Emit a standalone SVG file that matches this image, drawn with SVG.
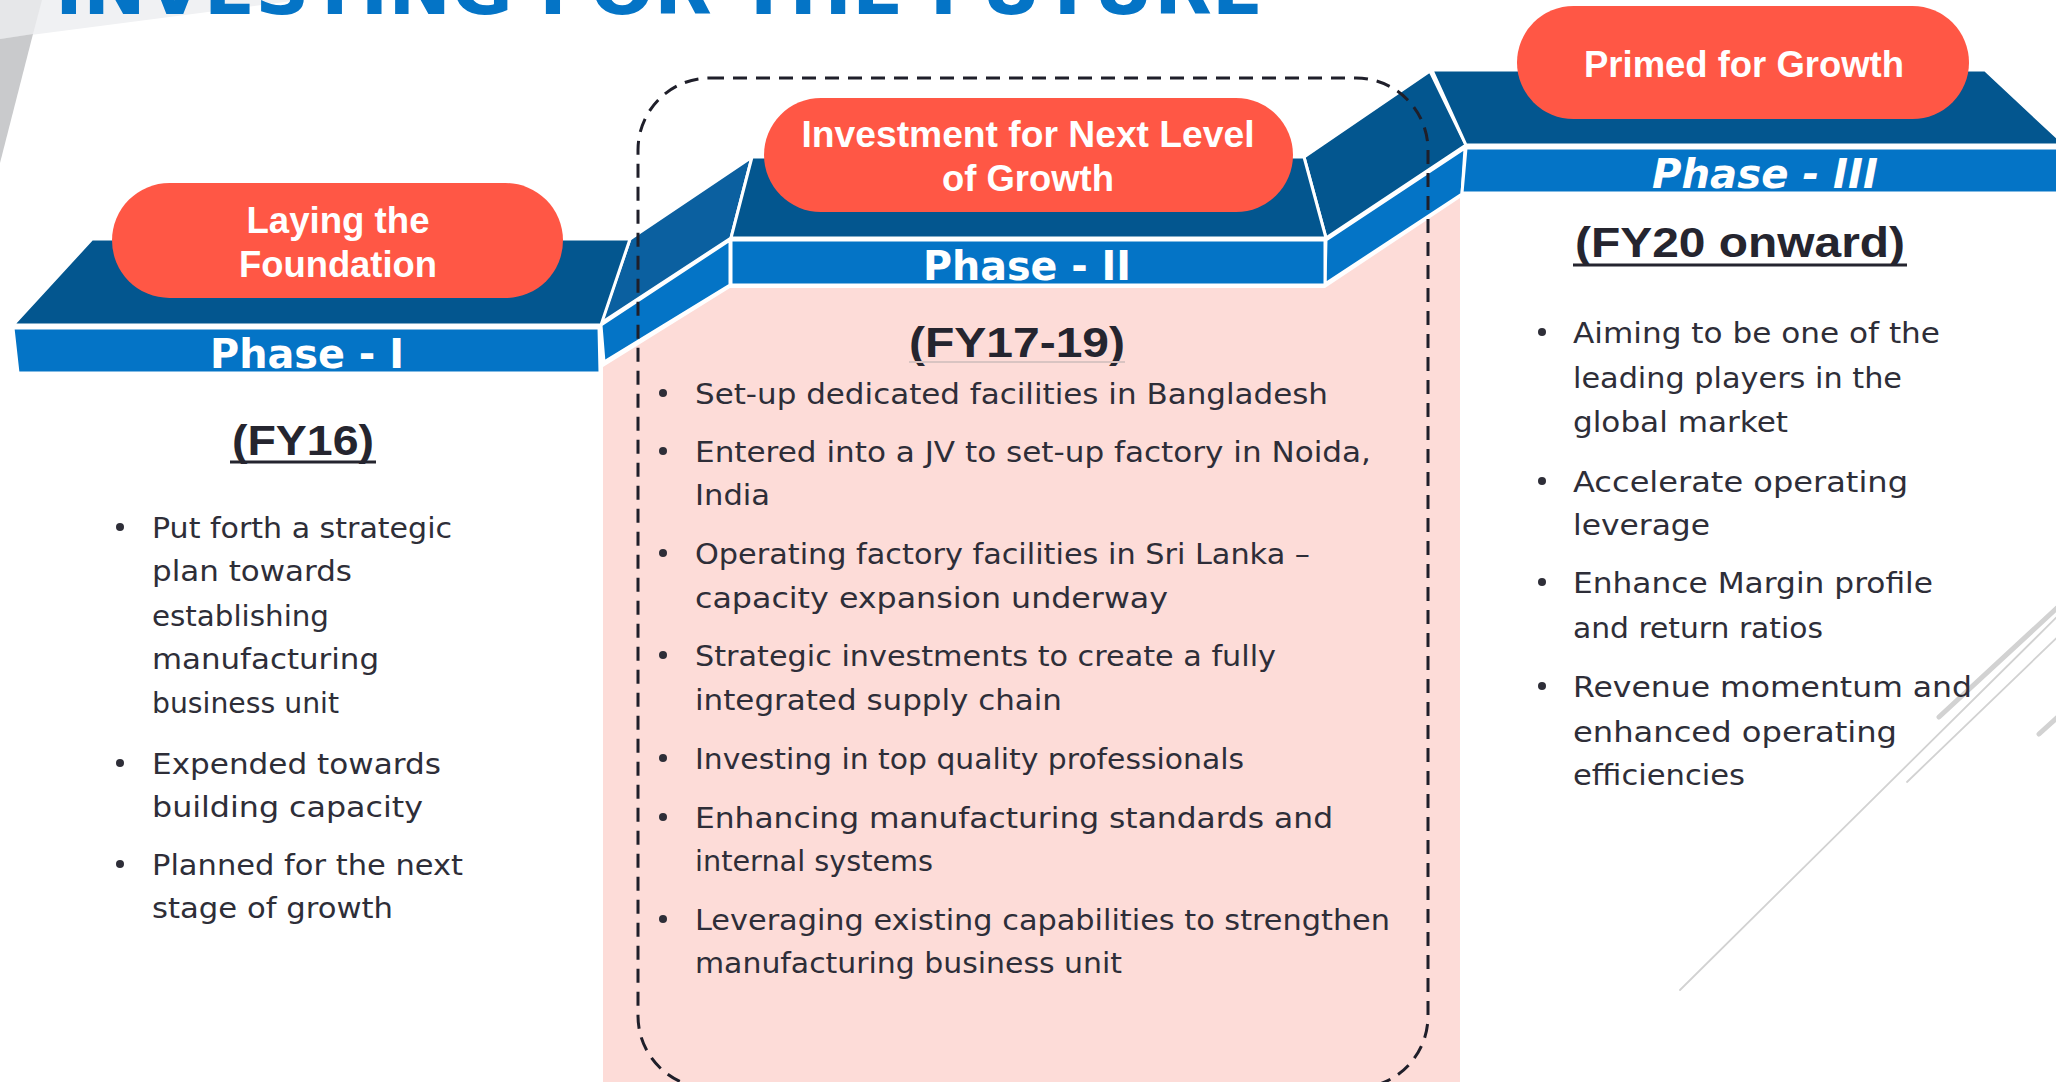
<svg xmlns="http://www.w3.org/2000/svg" width="2056" height="1082" viewBox="0 0 2056 1082">
<style>
.top{fill:#03568F;stroke:#fff;stroke-width:3;stroke-linejoin:round}
.slopetop{fill:#0B60A0;stroke:#fff;stroke-width:3;stroke-linejoin:round}
.front{fill:#0474C6;stroke:#fff;stroke-width:3;stroke-linejoin:round}
.pill{fill:#FF5745}
.pilltxt{font-family:"Liberation Sans",Arial,sans-serif;font-weight:bold;font-size:36px;fill:#fff;text-anchor:middle}
.phase{font-family:"DejaVu Sans",sans-serif;font-weight:bold;font-size:40px;fill:#fff;text-anchor:middle}
.fy{font-family:"Liberation Sans",Arial,sans-serif;font-weight:bold;font-size:42px;fill:#25252F;text-anchor:middle}
.ul{stroke:#25252F;stroke-width:3}
.b{font-family:"DejaVu Sans",sans-serif;font-size:29px;fill:#2E2E38}
.dot{fill:#2E2E38}
.deco{stroke:#D2D2D2;fill:none;stroke-linecap:round}
</style>
<rect width="2056" height="1082" fill="#fff"/>
<g id="background">
<polygon points="0,0 300,0 0,39" fill="#F0F1F3"/>
<polygon points="0,0 42,0 33,34 0,39" fill="#E6E7E9"/>
<polygon points="0,39 33,34 0,163" fill="#C9CACC"/>
<polygon points="603,367 730,288 1325,288 1460,198 1460,1082 603,1082" fill="#FDDCD8"/>
<line class="deco" x1="1939" y1="717" x2="2070" y2="596" stroke-width="5"/>
<line class="deco" x1="1907" y1="782" x2="2070" y2="625" stroke-width="1.8"/>
<line class="deco" x1="1680" y1="990" x2="2070" y2="604" stroke-width="1.8"/>
<line class="deco" x1="2039" y1="734" x2="2070" y2="706" stroke-width="5"/>
<text x="55" y="14" font-family="'DejaVu Sans',sans-serif" font-weight="bold" font-size="72" fill="#0474C6" textLength="1208" lengthAdjust="spacingAndGlyphs">INVESTING FOR THE FUTURE</text>
</g>
<g id="connectors">
<polygon class="slopetop" points="630,239 752,157 731,238 601,323"/>
<polygon class="front" points="601,325 730,240 730,285 604,362"/>
<polygon class="top" points="1304,157 1430,71 1466,145 1326,238"/>
<polygon class="front" points="1326,240 1465,148 1462,194 1325,284"/>
</g>
<g id="phase1">
<polygon class="top" points="92,239 630,239 601,325 13,325"/>
<polygon class="front" points="13,328 599,328 600,373 18,373"/>
<rect class="pill" x="112" y="183" width="451" height="115" rx="57.5"/>
<text class="pilltxt" x="338" y="233" textLength="183" lengthAdjust="spacingAndGlyphs">Laying the</text>
<text class="pilltxt" x="338" y="277" textLength="198" lengthAdjust="spacingAndGlyphs">Foundation</text>
<text class="phase" x="307" y="368" textLength="194" lengthAdjust="spacingAndGlyphs">Phase - I</text>
<text class="fy" x="303" y="455" textLength="142" lengthAdjust="spacingAndGlyphs">(FY16)</text>
<line class="ul" x1="230" y1="462" x2="376" y2="462"/>
<circle class="dot" cx="120" cy="527" r="4"/>
<circle class="dot" cx="120" cy="763" r="4"/>
<circle class="dot" cx="120" cy="864" r="4"/>
<text class="b" x="152" y="538" textLength="300" lengthAdjust="spacingAndGlyphs">Put forth a strategic</text>
<text class="b" x="152" y="581" textLength="200" lengthAdjust="spacingAndGlyphs">plan towards</text>
<text class="b" x="152" y="626" textLength="177" lengthAdjust="spacingAndGlyphs">establishing</text>
<text class="b" x="152" y="669" textLength="227" lengthAdjust="spacingAndGlyphs">manufacturing</text>
<text class="b" x="152" y="713" textLength="187" lengthAdjust="spacingAndGlyphs">business unit</text>
<text class="b" x="152" y="774" textLength="289" lengthAdjust="spacingAndGlyphs">Expended towards</text>
<text class="b" x="152" y="817" textLength="271" lengthAdjust="spacingAndGlyphs">building capacity</text>
<text class="b" x="152" y="875" textLength="311" lengthAdjust="spacingAndGlyphs">Planned for the next</text>
<text class="b" x="152" y="918" textLength="241" lengthAdjust="spacingAndGlyphs">stage of growth</text>
</g>
<g id="phase2">
<polygon class="top" points="752,157 1304,157 1326,238 731,238"/>
<polygon class="front" points="731,240 1325,240 1325,285 731,285"/>
<rect class="pill" x="764" y="98" width="529" height="114" rx="57"/>
<text class="pilltxt" x="1028" y="147" textLength="453" lengthAdjust="spacingAndGlyphs">Investment for Next Level</text>
<text class="pilltxt" x="1028" y="191" textLength="172" lengthAdjust="spacingAndGlyphs">of Growth</text>
<text class="phase" x="1027" y="280" textLength="208" lengthAdjust="spacingAndGlyphs">Phase - II</text>
<text class="fy" x="1017" y="357" textLength="216" lengthAdjust="spacingAndGlyphs">(FY17-19)</text>
<line x1="909" y1="362" x2="1125" y2="362" stroke="#D9C4C2" stroke-width="2"/>
<circle class="dot" cx="663" cy="393" r="4"/>
<circle class="dot" cx="663" cy="451" r="4"/>
<circle class="dot" cx="663" cy="553" r="4"/>
<circle class="dot" cx="663" cy="655" r="4"/>
<circle class="dot" cx="663" cy="758" r="4"/>
<circle class="dot" cx="663" cy="817" r="4"/>
<circle class="dot" cx="663" cy="919" r="4"/>
<text class="b" x="695" y="404" textLength="633" lengthAdjust="spacingAndGlyphs">Set-up dedicated facilities in Bangladesh</text>
<text class="b" x="695" y="462" textLength="676" lengthAdjust="spacingAndGlyphs">Entered into a JV to set-up factory in Noida,</text>
<text class="b" x="695" y="505" textLength="75" lengthAdjust="spacingAndGlyphs">India</text>
<text class="b" x="695" y="564" textLength="615" lengthAdjust="spacingAndGlyphs">Operating factory facilities in Sri Lanka –</text>
<text class="b" x="695" y="608" textLength="473" lengthAdjust="spacingAndGlyphs">capacity expansion underway</text>
<text class="b" x="695" y="666" textLength="581" lengthAdjust="spacingAndGlyphs">Strategic investments to create a fully</text>
<text class="b" x="695" y="710" textLength="367" lengthAdjust="spacingAndGlyphs">integrated supply chain</text>
<text class="b" x="695" y="769" textLength="549" lengthAdjust="spacingAndGlyphs">Investing in top quality professionals</text>
<text class="b" x="695" y="828" textLength="638" lengthAdjust="spacingAndGlyphs">Enhancing manufacturing standards and</text>
<text class="b" x="695" y="871" textLength="238" lengthAdjust="spacingAndGlyphs">internal systems</text>
<text class="b" x="695" y="930" textLength="695" lengthAdjust="spacingAndGlyphs">Leveraging existing capabilities to strengthen</text>
<text class="b" x="695" y="973" textLength="427" lengthAdjust="spacingAndGlyphs">manufacturing business unit</text>
</g>
<g id="phase3">
<polygon class="top" points="1432,70 1985,70 2060,140 2060,145 1466,145"/>
<polygon class="front" points="1466,148 2060,148 2060,193 1462,193"/>
<rect class="pill" x="1517" y="6" width="452" height="113" rx="56.5"/>
<text class="pilltxt" x="1744" y="77" textLength="320" lengthAdjust="spacingAndGlyphs">Primed for Growth</text>
<text class="phase" x="1765" y="188" font-style="italic" textLength="226" lengthAdjust="spacingAndGlyphs">Phase - III</text>
<text class="fy" x="1740" y="257" textLength="330" lengthAdjust="spacingAndGlyphs">(FY20 onward)</text>
<line class="ul" x1="1573" y1="265" x2="1907" y2="265"/>
<circle class="dot" cx="1542" cy="332" r="4"/>
<circle class="dot" cx="1542" cy="481" r="4"/>
<circle class="dot" cx="1542" cy="582" r="4"/>
<circle class="dot" cx="1542" cy="686" r="4"/>
<text class="b" x="1573" y="343" textLength="367" lengthAdjust="spacingAndGlyphs">Aiming to be one of the</text>
<text class="b" x="1573" y="388" textLength="329" lengthAdjust="spacingAndGlyphs">leading players in the</text>
<text class="b" x="1573" y="432" textLength="215" lengthAdjust="spacingAndGlyphs">global market</text>
<text class="b" x="1573" y="492" textLength="335" lengthAdjust="spacingAndGlyphs">Accelerate operating</text>
<text class="b" x="1573" y="535" textLength="137" lengthAdjust="spacingAndGlyphs">leverage</text>
<text class="b" x="1573" y="593" textLength="360" lengthAdjust="spacingAndGlyphs">Enhance Margin profile</text>
<text class="b" x="1573" y="638" textLength="250" lengthAdjust="spacingAndGlyphs">and return ratios</text>
<text class="b" x="1573" y="697" textLength="399" lengthAdjust="spacingAndGlyphs">Revenue momentum and</text>
<text class="b" x="1573" y="742" textLength="324" lengthAdjust="spacingAndGlyphs">enhanced operating</text>
<text class="b" x="1573" y="785" textLength="172" lengthAdjust="spacingAndGlyphs">efficiencies</text>
</g>
<g id="phase2-frame">
<rect x="638" y="78" width="790" height="1010" rx="72" fill="none" stroke="#1F1F2A" stroke-width="3" stroke-dasharray="14 9"/>
</g>
</svg>
